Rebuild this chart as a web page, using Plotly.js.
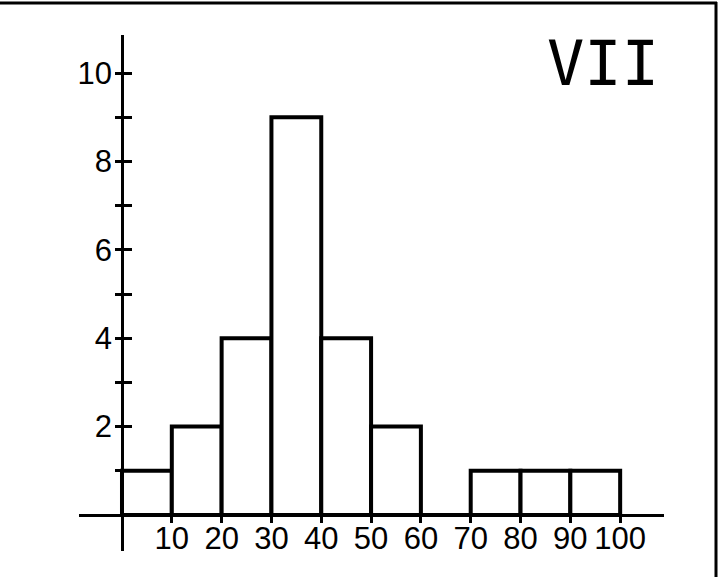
<!DOCTYPE html>
<html>
<head>
<meta charset="utf-8">
<script src="https://cdn.plot.ly/plotly-3.0.1.min.js"></script>
<style>html,body{margin:0;padding:0;background:#fff;}#chart{width:720px;height:577px;}</style>
</head>
<body>
<div id="chart"></div>
<script>
// Data
var binStarts = [0, 10, 20, 30, 40, 50, 60, 70, 80, 90];
var counts    = [1, 2, 4, 9, 4, 2, 0, 1, 1, 1];
var binWidth  = 10;
var xTickVals = [10, 20, 30, 40, 50, 60, 70, 80, 90, 100];
var xTickText = ['10', '20', '30', '40', '50', '60', '70', '80', '90', '100'];
var yTickVals = [1, 2, 3, 4, 5, 6, 7, 8, 9, 10];
var yTickText = ['', '2', '', '4', '', '6', '', '8', '', '10'];
var panelLabel = 'VII';

var W = 720, H = 577;
var mL = 79, mR = 56, mT = 35, mB = 26;
var pw = W - mL - mR, ph = H - mT - mB;
function px2paperX(p){ return (p - mL) / pw; }
function px2paperY(p){ return (H - mB - p) / ph; }

var font = {family: 'Liberation Sans, Arial, sans-serif', size: 31, color: '#000'};

var traces = [
  {
    type: 'bar',
    x: binStarts,
    y: counts,
    width: binStarts.map(function(){ return binWidth; }),
    offset: 0,
    marker: {color: '#fff', line: {color: '#000', width: 4}},
    hoverinfo: 'skip',
    xaxis: 'x', yaxis: 'y'
  },
  {type: 'scatter', mode: 'markers', x: [], y: [], xaxis: 'x2', yaxis: 'y2', showlegend: false, hoverinfo: 'skip'},
  {type: 'scatter', mode: 'markers', x: [], y: [], xaxis: 'x', yaxis: 'y3', showlegend: false, hoverinfo: 'skip'}
];

var xRange = [-8.63, 108.8];
var yRange = [-0.814, 10.86];
var lineX = px2paperX(122);
var lineY = px2paperY(515);

var layout = {
  width: W, height: H,
  margin: {l: mL, r: mR, t: mT, b: mB, pad: 0},
  paper_bgcolor: '#fff', plot_bgcolor: '#fff',
  showlegend: false,
  font: font,
  bargap: 0,
  // label-only axes
  xaxis: {
    range: xRange, domain: [0, 1],
    anchor: 'free', position: px2paperY(517),
    showgrid: false, zeroline: false, showline: false, ticks: '',
    tickmode: 'array', tickvals: xTickVals, ticktext: xTickText,
    tickfont: font, fixedrange: true
  },
  yaxis: {
    range: yRange, domain: [0, 1],
    anchor: 'free', position: px2paperX(112),
    showgrid: false, zeroline: false, showline: false, ticks: '',
    tickmode: 'array', tickvals: yTickVals, ticktext: yTickText,
    tickfont: font, fixedrange: true
  },
  // line + tick axes
  xaxis2: {
    overlaying: 'x', range: xRange, domain: [0, 1],
    anchor: 'free', position: lineY,
    showgrid: false, zeroline: false,
    showline: true, linecolor: '#000', linewidth: 3,
    ticks: 'outside', ticklen: 6, tickwidth: 3, tickcolor: '#000',
    tickmode: 'array', tickvals: xTickVals, showticklabels: false,
    fixedrange: true
  },
  yaxis2: {
    overlaying: 'y', range: yRange, domain: [0, 1],
    anchor: 'free', position: lineX,
    showgrid: false, zeroline: false,
    showline: true, linecolor: '#000', linewidth: 3,
    ticks: 'outside', ticklen: 6, tickwidth: 3, tickcolor: '#000',
    tickmode: 'array', tickvals: yTickVals, showticklabels: false,
    fixedrange: true
  },
  yaxis3: {
    overlaying: 'y', range: yRange, domain: [0, 1],
    anchor: 'free', position: lineX,
    showgrid: false, zeroline: false, showline: false,
    ticks: 'inside', ticklen: 9, tickwidth: 3, tickcolor: '#000',
    tickmode: 'array', tickvals: yTickVals, showticklabels: false,
    fixedrange: true
  },
  annotations: [
    {
      xref: 'paper', yref: 'paper',
      x: px2paperX(603), y: px2paperY(64),
      xanchor: 'center', yanchor: 'middle',
      text: panelLabel, showarrow: false,
      font: {family: 'DejaVu Sans Mono, monospace', size: 62, color: '#000'}
    }
  ],
  shapes: [
    {type: 'line', xref: 'paper', yref: 'paper',
     x0: px2paperX(0), x1: px2paperX(717), y0: px2paperY(3), y1: px2paperY(3),
     line: {color: '#000', width: 3}},
    {type: 'line', xref: 'paper', yref: 'paper',
     x0: px2paperX(716), x1: px2paperX(716), y0: px2paperY(2), y1: px2paperY(577),
     line: {color: '#000', width: 3}}
  ]
};

Plotly.newPlot('chart', traces, layout, {displayModeBar: false, staticPlot: true});
</script>
</body>
</html>
